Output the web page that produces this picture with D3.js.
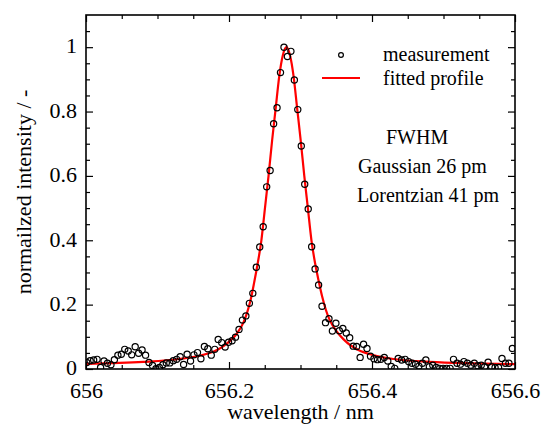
<!DOCTYPE html>
<html>
<head>
<meta charset="utf-8">
<script src="https://cdn.jsdelivr.net/npm/d3@7"></script>
<style>
  body { margin: 0; background: #fff; }
  svg { display: block; font-family: "Liberation Serif", "Times New Roman", serif; }
</style>
</head>
<body>
<div id="chart"></div>
<script>
// Measured points (wavelength in nm, normalized intensity)
const measWavelength = [
  656.0010, 656.0058, 656.0107, 656.0155, 656.0204, 656.0252, 656.0300, 656.0349, 656.0397, 656.0446,
  656.0494, 656.0542, 656.0591, 656.0639, 656.0688, 656.0736, 656.0784, 656.0833, 656.0881, 656.0930,
  656.0978, 656.1026, 656.1075, 656.1123, 656.1172, 656.1220, 656.1268, 656.1317, 656.1365, 656.1414,
  656.1462, 656.1510, 656.1559, 656.1607, 656.1656, 656.1704, 656.1752, 656.1801, 656.1849, 656.1898,
  656.1946, 656.1994, 656.2043, 656.2091, 656.2140, 656.2188, 656.2236, 656.2285, 656.2333, 656.2382,
  656.2430, 656.2478, 656.2527, 656.2575, 656.2624, 656.2672, 656.2720, 656.2769, 656.2817, 656.2866,
  656.2914, 656.2962, 656.3011, 656.3059, 656.3108, 656.3156, 656.3204, 656.3253, 656.3301, 656.3350,
  656.3398, 656.3446, 656.3495, 656.3543, 656.3592, 656.3640, 656.3688, 656.3737, 656.3785, 656.3834,
  656.3882, 656.3930, 656.3979, 656.4027, 656.4076, 656.4124, 656.4172, 656.4221, 656.4269, 656.4318,
  656.4366, 656.4414, 656.4463, 656.4511, 656.4560, 656.4608, 656.4656, 656.4705, 656.4753, 656.4802,
  656.4850, 656.4898, 656.4947, 656.4995, 656.5044, 656.5092, 656.5140, 656.5189, 656.5237, 656.5286,
  656.5334, 656.5382, 656.5431, 656.5479, 656.5528, 656.5576, 656.5624, 656.5673, 656.5721, 656.5770,
  656.5818, 656.5866, 656.5915, 656.5963
];
const measIntensity = [
  0.020, 0.026, 0.028, 0.030, 0.005, 0.025, 0.018, 0.013, 0.029, 0.043,
  0.046, 0.061, 0.056, 0.044, 0.069, 0.049, 0.059, 0.043, 0.020, 0.011,
  0.001, 0.005, 0.013, 0.019, 0.019, 0.026, 0.030, 0.038, 0.014, 0.046,
  0.025, 0.044, 0.051, 0.032, 0.070, 0.063, 0.043, 0.061, 0.092, 0.082,
  0.068, 0.083, 0.088, 0.099, 0.123, 0.152, 0.165, 0.204, 0.235, 0.316,
  0.379, 0.442, 0.566, 0.617, 0.762, 0.812, 0.921, 1.000, 0.971, 0.987,
  0.898, 0.806, 0.693, 0.574, 0.497, 0.380, 0.311, 0.261, 0.195, 0.144,
  0.156, 0.118, 0.142, 0.119, 0.126, 0.112, 0.097, 0.071, 0.070, 0.036,
  0.077, 0.064, 0.040, 0.032, 0.029, 0.030, 0.036, 0.025, 0.008, 0.002,
  0.033, 0.028, 0.030, 0.023, 0.018, 0.015, 0.009, 0.018, 0.028, 0.007,
  0.012, 0.005, 0.002, 0.002, 0.002, 0.002, 0.030, 0.018, 0.015, 0.023,
  0.018, 0.012, 0.018, 0.010, 0.012, 0.007, 0.021, 0.007, 0.005, 0.005,
  0.033, 0.018, 0.018, 0.064
];

// Fitted profile
const fitWavelength = [
  656.0000, 656.0803, 656.1303, 656.1603, 656.1803, 656.1903, 656.2003, 656.2103, 656.2203, 656.2253,
  656.2303, 656.2353, 656.2403, 656.2453, 656.2503, 656.2553, 656.2603, 656.2653, 656.2703, 656.2753,
  656.2803, 656.2853, 656.2903, 656.2953, 656.3003, 656.3053, 656.3103, 656.3153, 656.3203, 656.3253,
  656.3303, 656.3353, 656.3403, 656.3503, 656.3603, 656.3703, 656.3803, 656.4003, 656.4303, 656.4803,
  656.6000
];
const fitIntensity = [
  0.016, 0.022, 0.031, 0.042, 0.056, 0.068, 0.085, 0.108, 0.145, 0.175,
  0.215, 0.270, 0.330, 0.400, 0.500, 0.600, 0.710, 0.810, 0.910, 0.975,
  1.000, 0.975, 0.910, 0.810, 0.710, 0.600, 0.500, 0.400, 0.330, 0.275,
  0.225, 0.185, 0.155, 0.118, 0.092, 0.073, 0.060, 0.044, 0.031, 0.022,
  0.015
];

// Axis ticks
const xMajor = [656, 656.2, 656.4, 656.6];
const xMajorLabels = ["656", "656.2", "656.4", "656.6"];
const yMajor = [0, 0.2, 0.4, 0.6, 0.8, 1];
const yMajorLabels = ["0", "0.2", "0.4", "0.6", "0.8", "1"];
const xMinor = [656.05, 656.1, 656.15, 656.25, 656.3, 656.35, 656.45, 656.5, 656.55];
const yMinor = [0.05, 0.1, 0.15, 0.25, 0.3, 0.35, 0.45, 0.5, 0.55, 0.65, 0.7, 0.75, 0.85, 0.9, 0.95, 1.05];

const legendLabels = ["measurement", "fitted profile"];
const noteLines = ["FWHM", "Gaussian 26 pm", "Lorentzian 41 pm"];

const W = 542, H = 432;
const margin = { left: 86, right: 27, top: 15, bottom: 63 };
const iw = W - margin.left - margin.right;
const ih = H - margin.top - margin.bottom;

const svg = d3.select("#chart").append("svg").attr("width", W).attr("height", H);
const g = svg.append("g").attr("transform", `translate(${margin.left},${margin.top})`);

const x = d3.scaleLinear().domain([656, 656.6]).range([0, iw]);
const y = d3.scaleLinear().domain([0, 1.1]).range([ih, 0]);

// clip so tail markers don't spill over the frame
g.append("clipPath").attr("id", "clip")
  .append("rect").attr("width", iw).attr("height", ih);

// fitted line
const line = d3.line()
  .x((d, i) => x(fitWavelength[i]))
  .y(d => y(d))
  .curve(d3.curveMonotoneX);

g.append("path")
  .datum(fitIntensity)
  .attr("clip-path", "url(#clip)")
  .attr("fill", "none")
  .attr("stroke", "#ff0000")
  .attr("stroke-width", 2.2)
  .attr("d", line);

// measurement circles
g.append("g")
  .attr("clip-path", "url(#clip)")
  .selectAll("circle")
  .data(measIntensity)
  .enter()
  .append("circle")
  .attr("cx", (d, i) => x(measWavelength[i]))
  .attr("cy", d => y(d))
  .attr("r", 3.1)
  .attr("fill", "none")
  .attr("stroke", "#000")
  .attr("stroke-width", 1.2);

// axes, ticks pointing inward on all four sides
function styleAxis(sel) {
  sel.select(".domain").remove();
  sel.selectAll(".tick line").attr("stroke", "#000").attr("stroke-width", 1.2);
  sel.selectAll("text").attr("font-size", 22).attr("fill", "#000")
    .attr("font-family", "Liberation Serif, Times New Roman, serif");
}

g.append("g").attr("transform", `translate(0,${ih})`)
  .call(d3.axisBottom(x).tickValues(xMajor).tickSize(-7).tickPadding(13)
    .tickFormat((d, i) => xMajorLabels[i]))
  .call(styleAxis);
g.append("g").attr("transform", `translate(0,${ih})`)
  .call(d3.axisBottom(x).tickValues(xMinor).tickSize(-4).tickFormat(""))
  .call(styleAxis);
g.append("g")
  .call(d3.axisTop(x).tickValues(xMajor).tickSize(-7).tickFormat(""))
  .call(styleAxis);
g.append("g")
  .call(d3.axisTop(x).tickValues(xMinor).tickSize(-4).tickFormat(""))
  .call(styleAxis);

g.append("g")
  .call(d3.axisLeft(y).tickValues(yMajor).tickSize(-7).tickPadding(9)
    .tickFormat((d, i) => yMajorLabels[i]))
  .call(styleAxis)
  .call(sel => sel.selectAll("text").attr("dy", "0.26em"));
g.append("g")
  .call(d3.axisLeft(y).tickValues(yMinor).tickSize(-4).tickFormat(""))
  .call(styleAxis);
g.append("g").attr("transform", `translate(${iw},0)`)
  .call(d3.axisRight(y).tickValues(yMajor).tickSize(-7).tickFormat(""))
  .call(styleAxis);
g.append("g").attr("transform", `translate(${iw},0)`)
  .call(d3.axisRight(y).tickValues(yMinor).tickSize(-4).tickFormat(""))
  .call(styleAxis);

// frame
g.append("rect")
  .attr("width", iw).attr("height", ih)
  .attr("fill", "none").attr("stroke", "#000").attr("stroke-width", 1.6);

// axis titles
svg.append("text")
  .attr("x", margin.left + iw / 2).attr("y", 419)
  .attr("text-anchor", "middle").attr("font-size", 22)
  .text("wavelength / nm");

svg.append("text")
  .attr("transform", `translate(31,${margin.top + ih / 2}) rotate(-90)`)
  .attr("text-anchor", "middle").attr("font-size", 22)
  .text("normailzed intensity / -");

// legend
svg.append("circle")
  .attr("cx", 341).attr("cy", 55).attr("r", 2.4)
  .attr("fill", "none").attr("stroke", "#000").attr("stroke-width", 1.2);
svg.append("line")
  .attr("x1", 322).attr("x2", 360).attr("y1", 78).attr("y2", 78)
  .attr("stroke", "#ff0000").attr("stroke-width", 2.2);
svg.selectAll(".legend-text")
  .data(legendLabels)
  .enter()
  .append("text")
  .attr("class", "legend-text")
  .attr("x", 383)
  .attr("y", (d, i) => 61 + i * 24)
  .attr("font-size", 20)
  .text(d => d);

// FWHM note
const noteX = [386, 358, 357];
svg.selectAll(".note")
  .data(noteLines)
  .enter()
  .append("text")
  .attr("class", "note")
  .attr("x", (d, i) => noteX[i])
  .attr("y", (d, i) => 144 + i * 29)
  .attr("font-size", 20)
  .text(d => d);
</script>
</body>
</html>
